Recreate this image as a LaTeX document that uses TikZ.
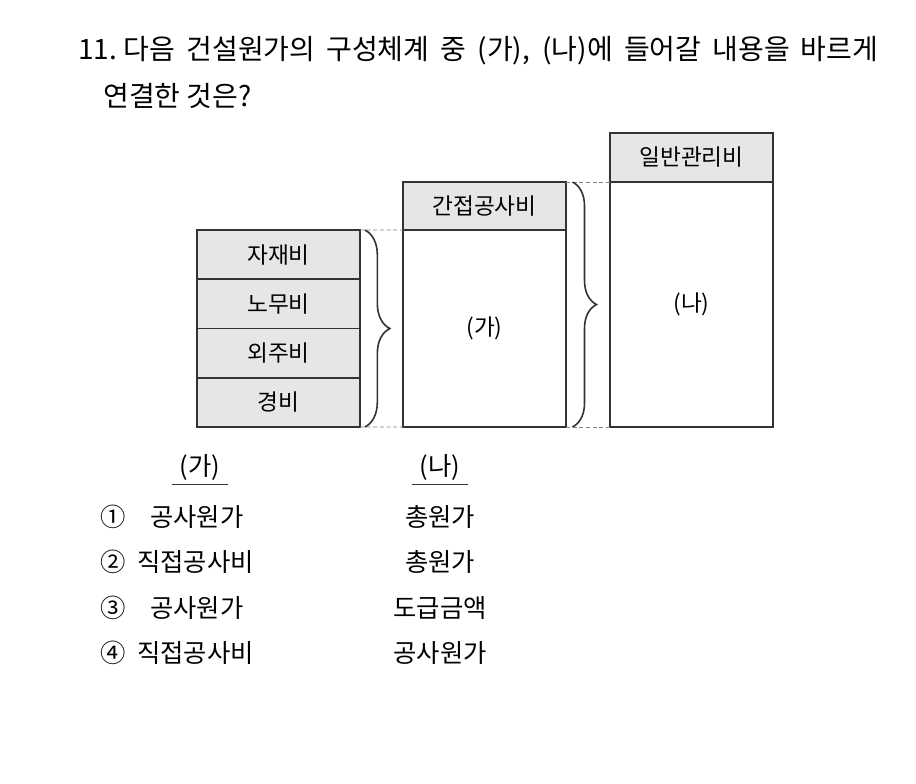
\documentclass[tikz,border=0pt]{standalone}
\usepackage{fontspec}
\setmainfont{Noto Sans CJK KR}
\usetikzlibrary{positioning,decorations.pathreplacing}
\definecolor{cellgray}{HTML}{E6E6E6}
\definecolor{edgegray}{HTML}{333333}

\begin{document}
\begin{tikzpicture}[x=0.75pt,y=-0.75pt,
  cell/.style={draw=edgegray,line width=1.4pt,fill=cellgray,minimum width=122pt,minimum height=37pt,inner sep=0pt,outer sep=0pt,font=\fontsize{17}{19}\selectfont},
  body/.style={draw=edgegray,line width=1.4pt,fill=white,minimum width=122pt,inner sep=0pt,outer sep=0pt,font=\fontsize{17}{19}\selectfont},
  guide/.style={gray,line width=0.6pt,dash pattern=on 3pt off 2pt},
  curly/.style={decorate,decoration={brace,amplitude=#1},edgegray,line width=1.2pt},
  ans/.style={font=\fontsize{19}{21}\selectfont,inner sep=0pt}]
\useasboundingbox (0,0) rectangle (916,783);
% --- question text
\node[anchor=west,inner sep=0pt,font=\fontsize{21}{24}\selectfont] (q1) at (78,51) {\makebox[600pt][s]{11.\hspace{5pt}다음 건설원가의 구성체계 중 (가), (나)에 들어갈 내용을 바르게}};
\node[anchor=west,inner sep=0pt,font=\fontsize{21}{24}\selectfont] (q2) at (103,96) {연결한 것은?};
% --- left column of cost items
\foreach \lbl [count=\i] in {자재비,노무비,외주비,경비}{
\node[cell] (c\i) at (278.5,{230+49.25*(\i-0.5)}) {\lbl};
}
% --- middle and right columns
\node[body,minimum height=147.75pt] (mb) at (484.5,328.5) {(가)};
\node[cell,minimum height=36pt,above=0pt of mb] (mh) {간접공사비};
\node[body,minimum height=183.75pt] (rb) at (691.5,304.5) {(나)};
\node[cell,minimum height=36.75pt,above=0pt of rb] (rh) {일반관리비};
% --- dashed guides and braces
\draw[guide] (c1.north east) -- (mb.north west);
\draw[guide] (c4.south east) -- (mb.south west);
\draw[guide] (mh.north east) -- (rb.north west);
\draw[guide] (mb.south east) -- (rb.south west);
\draw[curly=18.75pt] ([xshift=3.75pt]c1.north east) -- ([xshift=3.75pt]c4.south east);
\draw[curly=18pt] ([xshift=5pt]mh.north east) -- ([xshift=5pt]mb.south east);
% --- answer choices
\node[ans,minimum width=42pt,inner ysep=3pt] (ga) at (200,467) {(가)};
\node[ans,minimum width=42pt,inner ysep=3pt] (na) at (440,467) {(나)};
\draw[edgegray,line width=0.75pt] (ga.south west) -- (ga.south east);
\draw[edgegray,line width=0.75pt] (na.south west) -- (na.south east);
\foreach \num/\ga/\na/\gx [count=\i] in {①/공사원가/총원가/150,②/직접공사비/총원가/137,③/공사원가/도급금액/150,④/직접공사비/공사원가/137}{
\node[ans,anchor=west] (n\i) at (100,{517+45.3*(\i-1)}) {\num};
\node[ans,anchor=west] (g\i) at (\gx,{517+45.3*(\i-1)}) {\ga};
\node[ans] (k\i) at (440,{517+45.3*(\i-1)}) {\na};
}
\end{tikzpicture}
\end{document}
